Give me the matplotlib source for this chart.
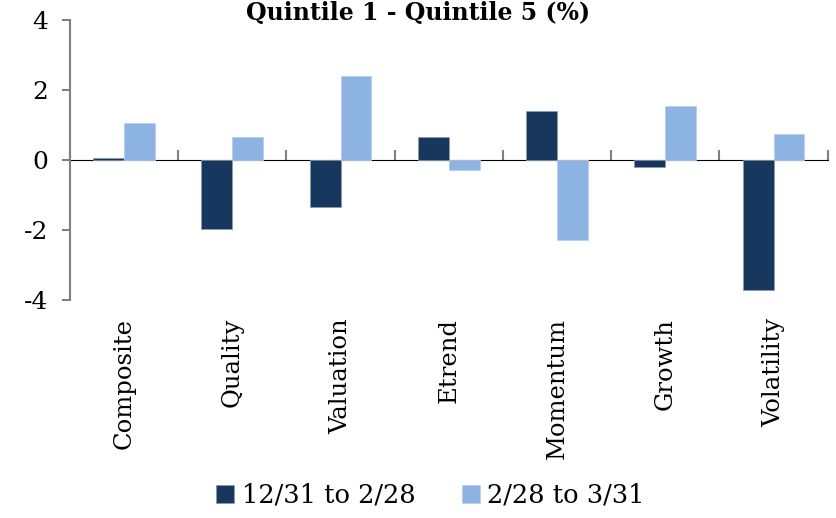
import numpy as np
import matplotlib.pyplot as plt

categories = ["Composite", "Quality", "Valuation", "Etrend", "Momentum", "Growth", "Volatility"]
period_1 = [0.05, -1.97, -1.35, 0.65, 1.39, -0.19, -3.72]
period_2 = [1.07, 0.65, 2.40, -0.28, -2.28, 1.54, 0.74]
series_names = ["12/31 to 2/28", "2/28 to 3/31"]
y_ticks = [-4, -2, 0, 2, 4]

plt.rcParams['font.family'] = ['DejaVu Serif']
plt.rcParams['axes.unicode_minus'] = False

fig = plt.figure(figsize=(8.36, 5.18), dpi=100)
ax = fig.add_axes([0.0837, 0.421, 0.9063, 0.540])

x = np.arange(len(categories))
w = 0.2857
ax.bar(x - w / 2, period_1, w, color='#17375E', edgecolor='#8a9bb0', linewidth=0.6, label=series_names[0])
ax.bar(x + w / 2, period_2, w, color='#8DB3E2', edgecolor='#b9cfee', linewidth=0.6, label=series_names[1])

ax.set_xlim(-0.5, len(categories) - 0.5)
ax.set_ylim(-4, 4)
ax.set_yticks(y_ticks)
ax.tick_params(axis='y', length=6, width=1.5, color='#808080', pad=10, labelsize=18)

# category labels at the bottom, no tick marks
ax.set_xticks(x)
ax.set_xticklabels(categories, rotation=90, fontsize=17.5)
ax.tick_params(axis='x', length=0, pad=13)

for s in ['top', 'right', 'bottom']:
    ax.spines[s].set_visible(False)
ax.spines['left'].set_color('#808080')
ax.spines['left'].set_linewidth(1.5)

# zero line with tick marks between categories
zero_ax = ax.secondary_xaxis(0.5)
zero_ax.set_xticks(np.arange(len(categories) + 1) - 0.5)
zero_ax.set_xticklabels([])
zero_ax.tick_params(length=7, width=1.5, color='#808080')
zero_ax.spines['bottom'].set_color('#808080')
zero_ax.spines['bottom'].set_linewidth(2)

fig.text(0.5, 0.999, "Quintile 1 - Quintile 5 (%)", ha='center', va='top',
         fontsize=17, fontweight='bold')

fig.legend(loc='lower center', bbox_to_anchor=(0.515, -0.025), ncol=2, frameon=False,
           fontsize=18.5, handlelength=0.7, handleheight=0.7, handletextpad=0.3,
           columnspacing=1.8)

fig.savefig('out.png', dpi=100)
